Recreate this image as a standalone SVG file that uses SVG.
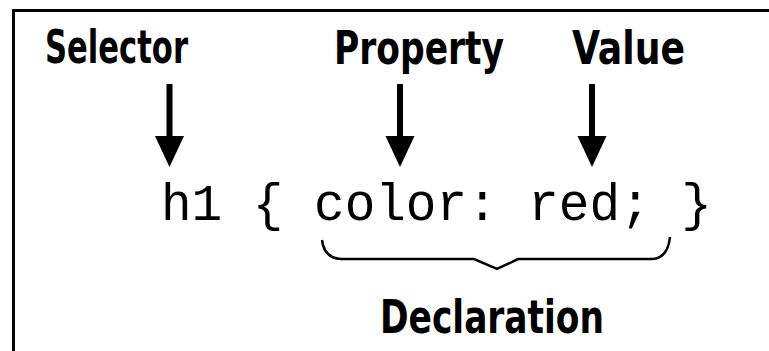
<svg xmlns="http://www.w3.org/2000/svg" width="769" height="351" viewBox="0 0 769 351">
<style>
.lbl{font-family:"Liberation Sans Narrow","DejaVu Sans Condensed","Liberation Sans",sans-serif;font-weight:bold;font-size:47px;fill:#000}
.code{font-family:"Courier New","Nimbus Mono PS","FreeMono","Liberation Mono",monospace;font-size:51px;fill:#000}
.conn{fill:none;stroke:#000}
</style>
<defs>
<g id="arrow">
<rect x="-3" y="84" width="6" height="53" fill="#000"/>
<polygon points="-14.5,136 14.5,136 0,167" fill="#000"/>
</g>
</defs>
<rect width="769" height="351" fill="#fff"/>
<g id="frame">
<path d="M13.5,351 L13.5,10.5 L769,10.5" fill="none" stroke="#000" stroke-width="3"/>
</g>
<g id="selector">
<text class="lbl" x="45" y="63" textLength="143" lengthAdjust="spacingAndGlyphs">Selector</text>
</g>
<g id="property">
<text class="lbl" x="334" y="64" textLength="170" lengthAdjust="spacingAndGlyphs">Property</text>
</g>
<g id="value">
<text class="lbl" x="572" y="64" textLength="113" lengthAdjust="spacingAndGlyphs">Value</text>
</g>
<g id="code">
<text class="code" x="161" y="219.5">h1 { color: red; }</text>
</g>
<g id="declaration">
<text class="lbl" x="380" y="333" textLength="224" lengthAdjust="spacingAndGlyphs">Declaration</text>
</g>
<g id="connectors">
<use href="#arrow" x="169.5" y="0"/>
<use href="#arrow" x="400" y="0"/>
<use href="#arrow" x="592" y="0"/>
<path class="conn" stroke-width="2.5" d="M322,240 Q324,258 341,259 L474,259 L497,269 L518,259 L652,259 Q668,258 670,237"/>
</g>
</svg>
